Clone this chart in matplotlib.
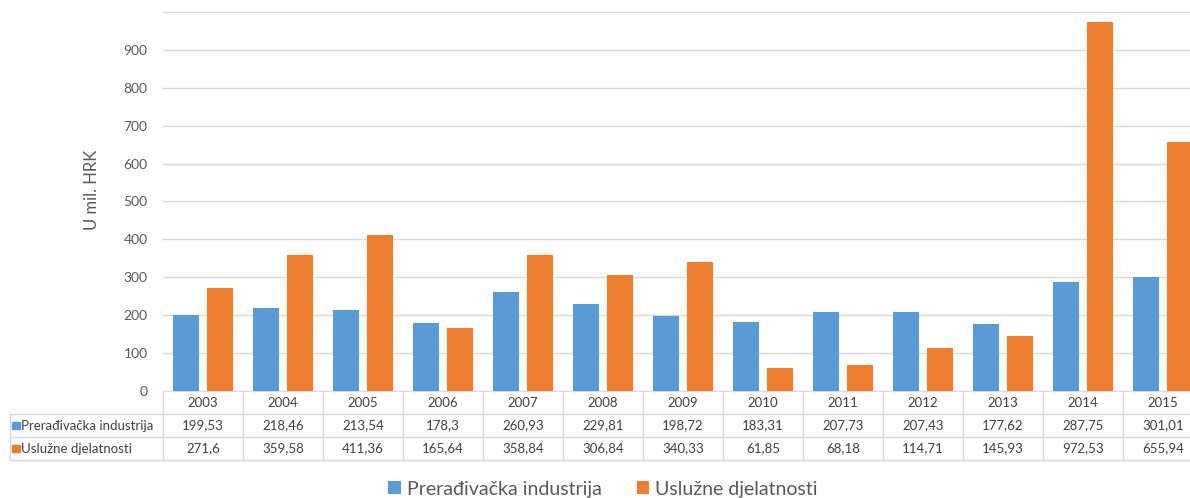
import numpy as np
import matplotlib.pyplot as plt
from matplotlib.patches import Rectangle

years = ["2003", "2004", "2005", "2006", "2007", "2008", "2009",
         "2010", "2011", "2012", "2013", "2014", "2015"]
preradivacka = [199.53, 218.46, 213.54, 178.3, 260.93, 229.81, 198.72,
                183.31, 207.73, 207.43, 177.62, 287.75, 301.01]
usluzne = [271.6, 359.58, 411.36, 165.64, 358.84, 306.84, 340.33,
           61.85, 68.18, 114.71, 145.93, 972.53, 655.94]
series_names = ["Prerađivačka industrija", "Uslužne djelatnosti"]
colors = ["#5B9BD5", "#ED7D31"]
y_ticks = list(range(0, 1001, 100))

plt.rcParams["font.family"] = ["Lato", "DejaVu Sans"]
W, H = 1190, 498
fig = plt.figure(figsize=(W / 100, H / 100), dpi=100)

# plot area (runs past the right edge, as in the cropped original)
ax = fig.add_axes([163 / W, (H - 391) / H, 1040 / W, 379 / H])
x = np.arange(len(years))
bw = 0.33
off = 0.21
ax.bar(x - off, preradivacka, bw, color=colors[0], label=series_names[0], zorder=3)
ax.bar(x + off, usluzne, bw, color=colors[1], label=series_names[1], zorder=3)
ax.set_xlim(-0.5, len(years) - 0.5)
ax.set_ylim(0, 1000)
ax.set_yticks(y_ticks)
ax.set_yticklabels([str(v) if v < 1000 else "" for v in y_ticks])
ax.set_xticks([])
ax.tick_params(axis="y", length=0, pad=11, labelsize=10, labelcolor="#595959")
ax.grid(axis="y", color="#D9D9D9", lw=1, zorder=0)
for s in ["top", "right", "left"]:
    ax.spines[s].set_visible(False)
ax.spines["bottom"].set_color("#D9D9D9")
ax.set_ylabel("U mil. HRK", fontsize=12, color="#595959")
ax.yaxis.set_label_coords(-63 / 1040, 0.53)

# data table under the axis
tax = fig.add_axes([163 / W, (H - 460) / H, 1040 / W, 69 / H])
tax.set_xlim(-0.5, len(years) - 0.5)
tax.set_ylim(3, 0)
tax.axis("off")
lab_left = -0.5 - 153 / 80
gc = "#D9D9D9"
tc = "#404040"
fs = 9.5
for i in range(len(years) + 1):
    tax.plot([i - 0.5, i - 0.5], [0, 3], color=gc, lw=1, clip_on=False)
tax.plot([lab_left, lab_left], [1, 3], color=gc, lw=1, clip_on=False)
for r in [1, 2, 3]:
    tax.plot([lab_left, len(years) - 0.5], [r, r], color=gc, lw=1, clip_on=False)
for i, yr in enumerate(years):
    tax.text(i, 0.5, yr, ha="center", va="center", fontsize=fs, color=tc)
    tax.text(i, 1.5, f"{preradivacka[i]:g}".replace(".", ","),
             ha="center", va="center", fontsize=fs, color=tc)
    tax.text(i, 2.5, f"{usluzne[i]:g}".replace(".", ","),
             ha="center", va="center", fontsize=fs, color=tc)
for r, (name, c) in enumerate(zip(series_names, colors)):
    tax.add_patch(Rectangle((lab_left + 0.03, r + 1.33), 0.09, 0.34,
                            color=c, clip_on=False))
    tax.text(lab_left + 0.14, r + 1.5, name, ha="left", va="center",
             fontsize=fs, color=tc, clip_on=False)

fig.legend(loc="center", bbox_to_anchor=(603 / W, 9 / H), ncol=2, frameon=False,
           fontsize=14, handlelength=0.65, handleheight=0.65, columnspacing=1.8,
           handletextpad=0.3, labelcolor="#595959")

fig.savefig("out.png", dpi=100)
